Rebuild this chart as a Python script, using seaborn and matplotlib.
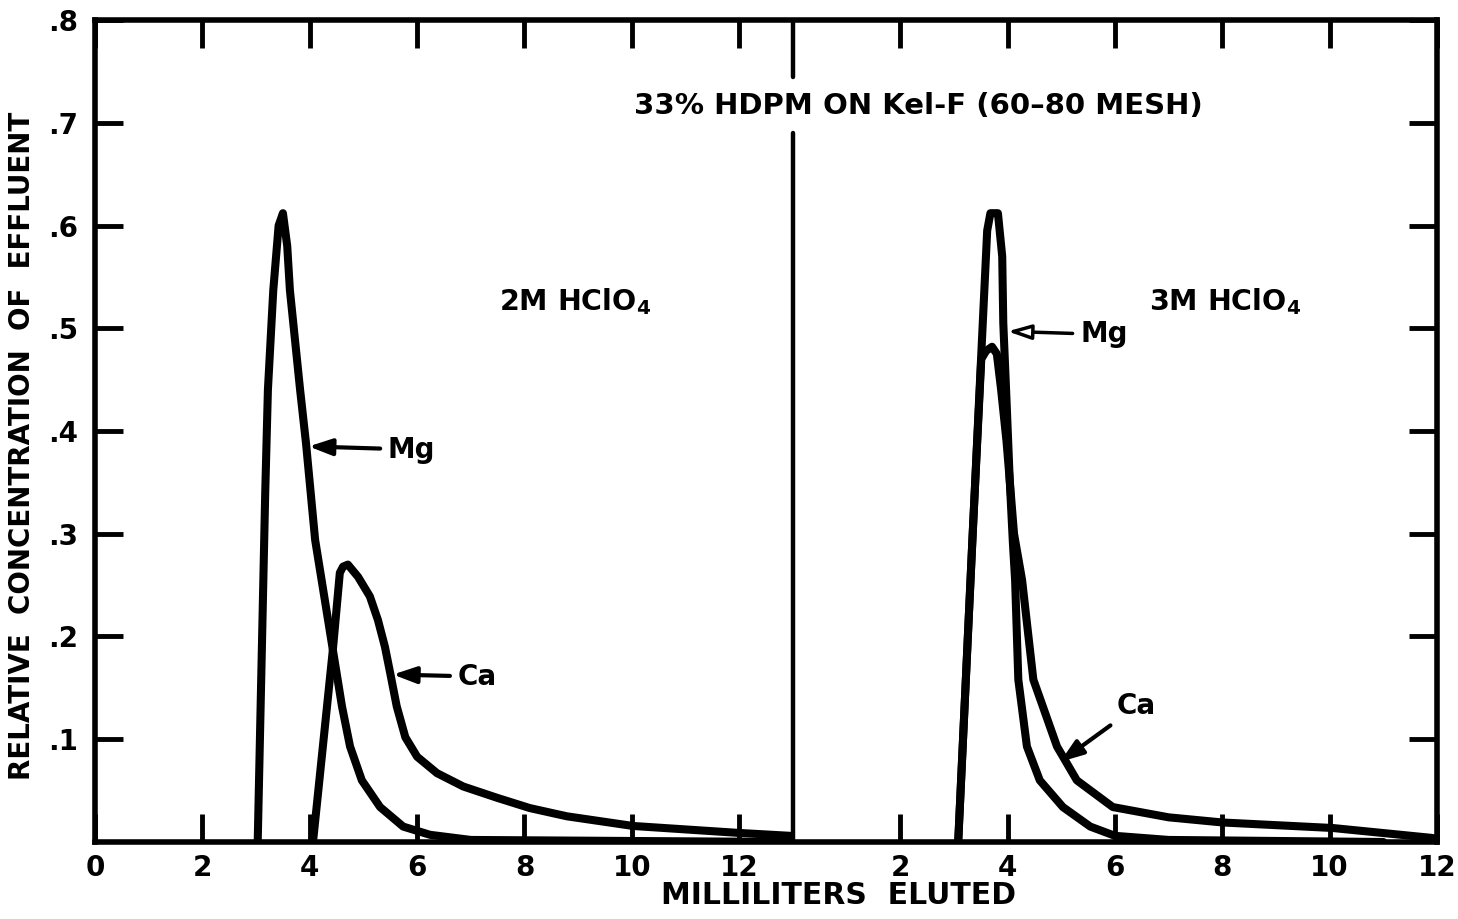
import matplotlib
matplotlib.use("Agg")
import matplotlib.pyplot as plt
import seaborn as sns

# Elution curves, 2 M HClO4 (left half), millilitres eluted vs relative concentration
mg_2m_ml = [3.03, 3.17, 3.22, 3.32, 3.42, 3.5, 3.58, 3.63, 3.82, 3.93, 4.1, 4.43, 4.6, 4.75,
            4.97, 5.31, 5.74, 6.24, 7.0, 12.9]
mg_2m_conc = [0.0, 0.34, 0.44, 0.537, 0.60, 0.612, 0.58, 0.537, 0.44, 0.388, 0.294, 0.187, 0.132,
              0.093, 0.060, 0.034, 0.015, 0.007, 0.002, 0.0]

ca_2m_ml = [4.06, 4.43, 4.56, 4.62, 4.71, 4.9, 5.12, 5.27, 5.4, 5.5, 5.62, 5.78, 6.0, 6.37,
            6.86, 7.49, 8.1, 8.79, 10.02, 12.0, 12.95]
ca_2m_conc = [0.0, 0.187, 0.262, 0.268, 0.270, 0.258, 0.239, 0.216, 0.190, 0.164, 0.132, 0.102,
              0.083, 0.067, 0.054, 0.043, 0.033, 0.025, 0.0156, 0.0088, 0.006]

# Elution curves, 3 M HClO4 (right half)
mg_3m_ml = [3.08, 3.35, 3.62, 3.68, 3.82, 3.9, 3.92, 3.98, 4.04, 4.1, 4.14, 4.2, 4.36, 4.6,
            5.03, 5.54, 6.0, 7.0, 11.0]
mg_3m_conc = [0.0, 0.30, 0.595, 0.612, 0.612, 0.57, 0.505, 0.43, 0.352, 0.29, 0.255, 0.158, 0.093,
              0.060, 0.034, 0.015, 0.006, 0.002, 0.0]

ca_3m_ml = [3.08, 3.35, 3.51, 3.6, 3.71, 3.8, 3.88, 3.98, 4.04, 4.12, 4.27, 4.48, 4.92, 5.29,
            5.96, 7.0, 8.0, 10.06, 11.9, 12.0]
ca_3m_conc = [0.0, 0.30, 0.47, 0.478, 0.482, 0.475, 0.44, 0.39, 0.352, 0.30, 0.255, 0.158, 0.093,
              0.060, 0.034, 0.024, 0.019, 0.0136, 0.004, 0.003]

# The 3 M run is laid out after the 2 M run on one shared axis
SPLIT = 13
left_ticks = [0, 2, 4, 6, 8, 10, 12]
right_ticks = [2, 4, 6, 8, 10, 12]
y_ticks = [0.1, 0.2, 0.3, 0.4, 0.5, 0.6, 0.7, 0.8]
y_labels = [".1", ".2", ".3", ".4", ".5", ".6", ".7", ".8"]

sns.set_theme(style="ticks")
plt.rcParams["font.family"] = ["DejaVu Sans"]
plt.rcParams["font.weight"] = "bold"
plt.rcParams["text.color"] = "black"
plt.rcParams["axes.labelcolor"] = "black"
plt.rcParams["mathtext.default"] = "bf"

fig = plt.figure(figsize=(14.58, 9.19), dpi=100)
ax = fig.add_axes([0.0652, 0.0838, 0.9204, 0.8944])

line_kw = dict(color="black", linewidth=5.8, estimator=None, sort=False,
               solid_joinstyle="round", solid_capstyle="round")
sns.lineplot(x=mg_2m_ml, y=mg_2m_conc, ax=ax, **line_kw)
sns.lineplot(x=ca_2m_ml, y=ca_2m_conc, ax=ax, **line_kw)
sns.lineplot(x=[v + SPLIT for v in mg_3m_ml], y=mg_3m_conc, ax=ax, **line_kw)
sns.lineplot(x=[v + SPLIT for v in ca_3m_ml], y=ca_3m_conc, ax=ax, **line_kw)

# divider between the two runs, interrupted by the heading
ax.plot([SPLIT, SPLIT], [0, 0.69], color="black", lw=3.2)
ax.plot([SPLIT, SPLIT], [0.745, 0.8], color="black", lw=3.2)

ax.set_xlim(0, SPLIT + 12)
ax.set_ylim(0, 0.8)

xt = left_ticks + [SPLIT + t for t in right_ticks]
ax.set_xticks(xt)
ax.set_xticklabels([str(t) for t in left_ticks] + [str(t) for t in right_ticks])
ax.set_yticks(y_ticks)
ax.set_yticklabels(y_labels)
ax.tick_params(axis="both", direction="in", length=20, width=3.5, color="black",
               labelsize=20, top=True, right=True, labelcolor="black")
ax.tick_params(axis="x", pad=9)
ax.tick_params(axis="y", pad=12)
for lab in ax.get_xticklabels() + ax.get_yticklabels():
    lab.set_fontweight("bold")

for s in ax.spines.values():
    s.set_linewidth(4)
    s.set_color("black")

ax.set_xlabel("MILLILITERS  ELUTED", fontsize=21.5, fontweight="bold")
ax.set_ylabel("RELATIVE  CONCENTRATION  OF  EFFLUENT", fontsize=20, fontweight="bold")
ax.xaxis.set_label_coords(0.554, -0.048)
ax.yaxis.set_label_coords(-0.044, 0.482)

ax.text(15.33, 0.716, "33% HDPM ON Kel-F (60\u201380 MESH)", ha="center", va="center",
        fontsize=21, fontweight="bold")
ax.text(8.94, 0.526, r"2M HClO$_4$", ha="center", va="center", fontsize=20.5, fontweight="bold")
ax.text(21.05, 0.526, r"3M HClO$_4$", ha="center", va="center", fontsize=20.5, fontweight="bold")

arrow = dict(arrowstyle="-|>,head_length=0.7,head_width=0.25", lw=3, color="black",
             shrinkA=3, shrinkB=0)
ax.annotate("Mg", xy=(3.98, 0.385), xytext=(5.45, 0.382), ha="left", va="center",
            fontsize=20, fontweight="bold", arrowprops=arrow)
ax.annotate("Ca", xy=(5.55, 0.163), xytext=(6.75, 0.161), ha="left", va="center",
            fontsize=20, fontweight="bold", arrowprops=arrow)
hollow = dict(arrowstyle="-|>,head_length=0.7,head_width=0.22", lw=2.5, color="black",
              fc="white", shrinkA=3, shrinkB=0)
ax.annotate("Mg", xy=(17.0, 0.497), xytext=(18.35, 0.494), ha="left", va="center",
            fontsize=20, fontweight="bold", arrowprops=hollow)
ax.annotate("Ca", xy=(17.98, 0.078), xytext=(19.04, 0.132), ha="left", va="center",
            fontsize=20, fontweight="bold", arrowprops=arrow)

fig.savefig("out.png", dpi=100, facecolor="white")
